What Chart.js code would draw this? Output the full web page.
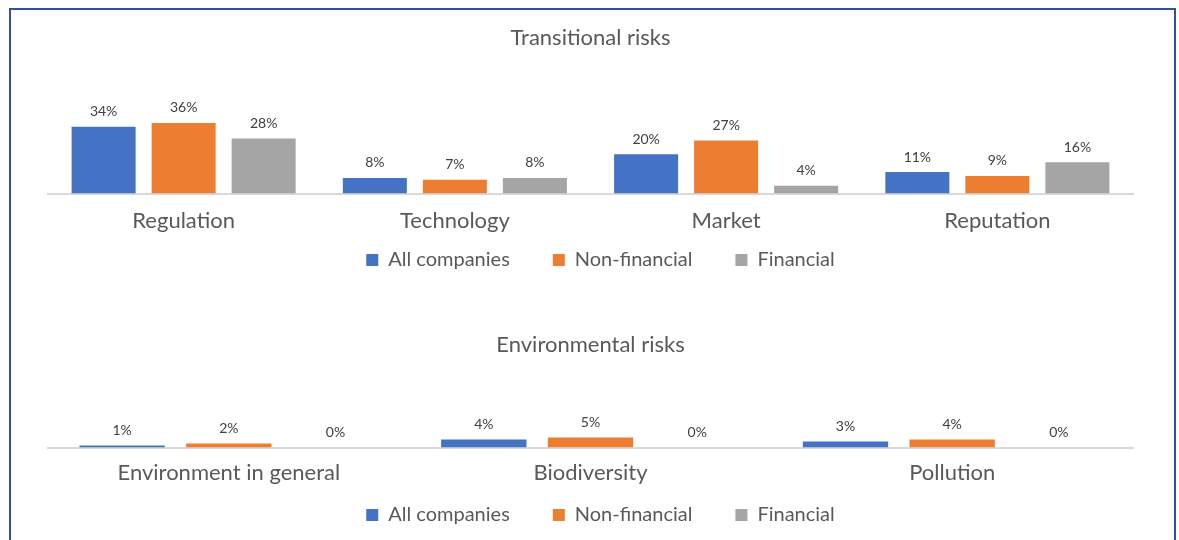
<!DOCTYPE html>
<html>
<head>
<meta charset="utf-8">
<script src="https://cdn.jsdelivr.net/npm/chart.js@4/dist/chart.umd.min.js"></script>
<style>
  body { margin: 0; background: #fff; width: 1179px; height: 540px; overflow: hidden; position: relative; }
  #frame { position: absolute; left: 9px; top: 8px; width: 1163px; height: 560px; border: 2px solid #3350a0; }
  canvas { position: absolute; left: 0; }
  #topChart { top: 0; }
  #bottomChart { top: 290px; }
</style>
</head>
<body>
<div id="frame"></div>
<canvas id="topChart" width="1179" height="290"></canvas>
<canvas id="bottomChart" width="1179" height="250"></canvas>
<script>
// Series names and colours
const seriesNames = ['All companies', 'Non-financial', 'Financial'];
const seriesColors = ['#4472C4', '#ED7D31', '#A5A5A5'];

// Transitional risks (%)
const transCategories = ['Regulation', 'Technology', 'Market', 'Reputation'];
const transAll = [34, 8, 20, 11];
const transNonFin = [36, 7, 27, 9];
const transFin = [28, 8, 4, 16];

// Environmental risks (%)
const envCategories = ['Environment in general', 'Biodiversity', 'Pollution'];
const envAll = [1, 4, 3];
const envNonFin = [2, 5, 4];
const envFin = [0, 0, 0];

const FONT = 'Lato, "Open Sans", sans-serif';
const TEXT = '#595959';

// draws the value above each bar
const valueLabels = {
    id: 'valueLabels',
    afterDatasetsDraw(chart) {
        const ctx = chart.ctx;
        ctx.save();
        ctx.font = '14px ' + FONT;
        ctx.fillStyle = '#404040';
        ctx.textAlign = 'center';
        ctx.textBaseline = 'middle';
        chart.data.datasets.forEach((ds, i) => {
            chart.getDatasetMeta(i).data.forEach((bar, j) => {
                ctx.fillText(ds.data[j] + '%', bar.x, bar.y - 15);
            });
        });
        ctx.restore();
    }
};

// the legend needs wide gaps between items but little space above it:
// shrink its box and draw it a bit higher (and slightly right)
const legendTweak = (shrink, lift, shift) => ({
    id: 'legendTweak',
    afterInit(chart) {
        const lg = chart.legend;
        const fit = lg.fit;
        lg.fit = function () { fit.call(this); this.height -= shrink; };
        const draw = lg.draw;
        lg.draw = function () {
            const top = this.top, left = this.left, right = this.right;
            this.top -= lift;
            this.left += shift;
            this.right += shift;
            draw.call(this);
            this.top = top;
            this.left = left;
            this.right = right;
        };
    }
});

const buildChart = (id, title, labels, values, yMax, titlePad, tickPad, shrink, lift) => {
    const ctx = document.getElementById(id).getContext('2d');
    return new Chart(ctx, {
        type: 'bar',
        data: {
            labels: labels,
            datasets: values.map((v, i) => ({
                label: seriesNames[i],
                data: v,
                backgroundColor: seriesColors[i],
                categoryPercentage: 0.885,
                barPercentage: 0.8
            }))
        },
        options: {
            responsive: false,
            animation: false,
            layout: { padding: { left: 48, right: 46, top: 0, bottom: 6 } },
            plugins: {
                title: {
                    display: true,
                    text: title,
                    color: TEXT,
                    font: { family: FONT, size: 22, weight: 'normal' },
                    padding: titlePad
                },
                legend: {
                    position: 'bottom',
                    labels: {
                        color: TEXT,
                        font: { family: FONT, size: 20 },
                        boxWidth: 12,
                        boxHeight: 12,
                        padding: 43
                    }
                },
                tooltip: { enabled: false }
            },
            scales: {
                x: {
                    grid: { display: false },
                    border: { color: '#d9d9d9', width: 2 },
                    ticks: { color: TEXT, font: { family: FONT, size: 22 }, padding: tickPad }
                },
                y: {
                    display: false,
                    min: 0,
                    max: yMax
                }
            }
        },
        plugins: [valueLabels, legendTweak(shrink, lift, 10)]
    });
};

buildChart('topChart', 'Transitional risks', transCategories,
    [transAll, transNonFin, transFin], 50, { top: 25, bottom: 44 }, 6, 29, 33);
buildChart('bottomChart', 'Environmental risks', envCategories,
    [envAll, envNonFin, envFin], 40, { top: 42, bottom: 8 }, 4, 29, 28);
</script>
</body>
</html>
